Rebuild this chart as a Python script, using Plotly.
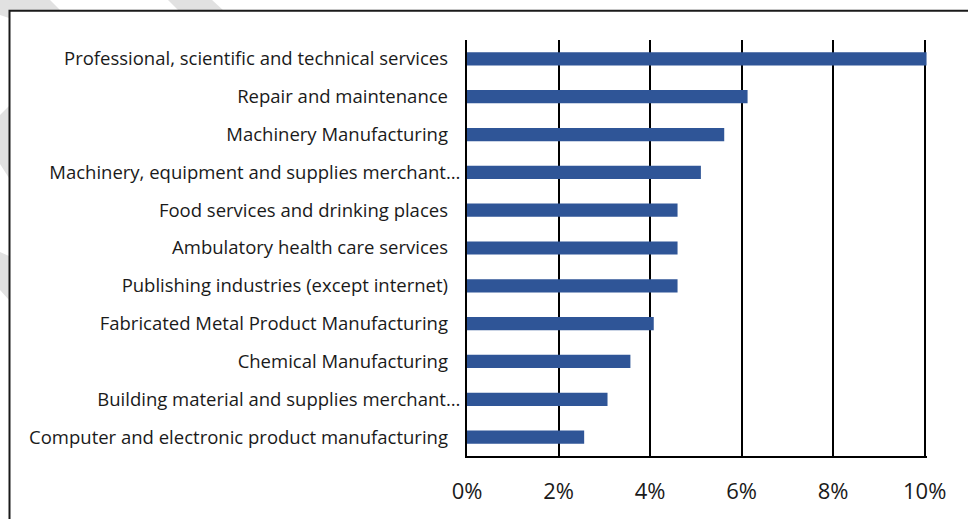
import plotly.graph_objects as go

# Industry categories, listed top to bottom
categories = [
    "Professional, scientific and technical services",
    "Repair and maintenance",
    "Machinery Manufacturing",
    "Machinery, equipment and supplies merchant…",
    "Food services and drinking places",
    "Ambulatory health care services",
    "Publishing industries (except internet)",
    "Fabricated Metal Product Manufacturing",
    "Chemical Manufacturing",
    "Building material and supplies merchant…",
    "Computer and electronic product manufacturing",
]

# Share of total, in percent
shares = [10.04, 6.13, 5.62, 5.11, 4.60, 4.60, 4.60, 4.08, 3.57, 3.07, 2.56]

x_ticks = [0, 2, 4, 6, 8, 10]

W, H = 968, 519
L, R, T, B = 467, 41, 40, 63
PW, PH = W - L - R, H - T - B
FONT = "Open Sans"


def px(x, y):
    """Convert page pixels to paper coordinates."""
    return (x - L) / PW, (H - B - y) / PH


def path(points):
    pts = [px(x, y) for x, y in points]
    return "M " + " L ".join(f"{a:.4f},{b:.4f}" for a, b in pts) + " Z"


# Labels cut with an ellipsis sit closer to the axis
ticktext = [c if c.endswith("…") else c + "\u2002\u2009" for c in categories]

fig = go.Figure(
    go.Bar(
        x=shares,
        y=categories,
        orientation="h",
        width=0.35,
        marker=dict(color="#2F5597", line=dict(width=0)),
        hoverinfo="skip",
    )
)

stripe = "#e1e1e1"
shapes = [
    dict(type="path", xref="paper", yref="paper", layer="below", line=dict(width=0),
         fillcolor=stripe, path=path([(0, 0), (50, 0), (61, 11), (9, 11), (9, 18), (0, 15)])),
    dict(type="path", xref="paper", yref="paper", layer="below", line=dict(width=0),
         fillcolor=stripe, path=path([(168, 0), (212, 0), (224, 11), (179, 11)])),
    dict(type="path", xref="paper", yref="paper", layer="below", line=dict(width=0),
         fillcolor=stripe, path=path([(0, 115), (9, 106), (9, 178), (0, 164)])),
    dict(type="path", xref="paper", yref="paper", layer="below", line=dict(width=0),
         fillcolor=stripe, path=path([(0, 252), (9, 256), (9, 300), (0, 290)])),
]
# Outer frame (only the top and left edges fall inside the page)
fx0, fy0 = px(9.5, 10.7)
fx1, fy1 = px(W + 10, H + 10)
shapes.append(dict(type="rect", xref="paper", yref="paper", layer="above",
                   x0=fx0, y0=fy1, x1=fx1, y1=fy0,
                   line=dict(color="#1a1a1a", width=2), fillcolor="rgba(0,0,0,0)"))

fig.update_layout(
    width=W,
    height=H,
    margin=dict(l=L, r=R, t=T, b=B, pad=0),
    paper_bgcolor="white",
    plot_bgcolor="rgba(0,0,0,0)",
    showlegend=False,
    font=dict(family=FONT, color="#1a1a1a"),
    shapes=shapes,
    bargap=0.65,
)

fig.update_xaxes(
    range=[0, 10.05],
    tickvals=x_ticks,
    ticktext=[f"{v}%" for v in x_ticks],
    showgrid=True,
    gridcolor="#000000",
    gridwidth=2,
    zeroline=False,
    showline=True,
    linecolor="#000000",
    linewidth=2,
    ticks="",
    ticklabelstandoff=15,
    tickfont=dict(size=22, family=FONT, color="#1a1a1a"),
    fixedrange=True,
)

fig.update_yaxes(
    autorange="reversed",
    tickvals=categories,
    ticktext=ticktext,
    showgrid=False,
    zeroline=False,
    showline=True,
    linecolor="#000000",
    linewidth=2,
    ticks="",
    ticklabelstandoff=1,
    tickfont=dict(size=18.5, family=FONT, color="#1a1a1a"),
    fixedrange=True,
)

fig.write_html("out.html", config={"displayModeBar": False})
